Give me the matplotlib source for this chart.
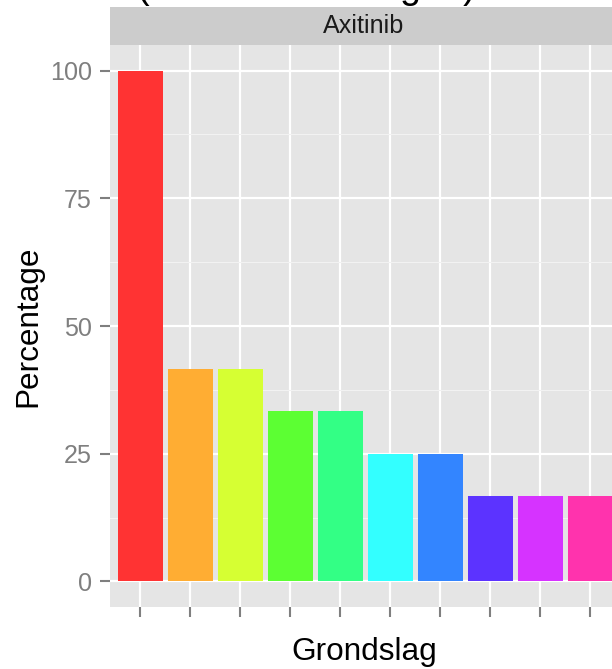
import numpy as np
import matplotlib.pyplot as plt

plt.rcParams['font.family'] = ['Liberation Sans', 'DejaVu Sans']

# data (12 patients -> steps of 8.33 %)
categories = ["G1", "G2", "G3", "G4", "G5", "G6", "G7", "G8", "G9", "G10"]
percentage = [100, 41.67, 41.67, 33.33, 33.33, 25, 25, 16.67, 16.67, 16.67]
bar_colors = ["#FF3333", "#FFAD33", "#D6FF33", "#5CFF33", "#33FF85",
              "#33FFFF", "#3385FF", "#5C33FF", "#D633FF", "#FF33AD"]
y_ticks = [0, 25, 50, 75, 100]
panel_name = "Axitinib"

W, H = 612, 669
fig = plt.figure(figsize=(W / 100, H / 100), dpi=100)

# panel geometry in pixels (top-origin), right edge runs off the picture
left, right, top, bottom = 110, 620, 45, 607
ax = fig.add_axes([left / W, (H - bottom) / H, (right - left) / W, (bottom - top) / H])
ax.set_facecolor("#E5E5E5")

x = np.arange(1, len(categories) + 1)
ax.bar(x, percentage, width=0.9, color=bar_colors, zorder=3)

ax.set_xlim(0.4, len(categories) + 0.6)
ax.set_ylim(-5, 105)
ax.set_yticks(y_ticks)
ax.set_yticks([12.5, 37.5, 62.5, 87.5], minor=True)
ax.set_xticks(x)
ax.set_xticklabels([""] * len(x))
ax.grid(which="major", color="white", linewidth=1.6, zorder=1)
ax.grid(which="minor", axis="y", color="#F2F2F2", linewidth=0.8, zorder=1)
for s in ax.spines.values():
    s.set_visible(False)
ax.tick_params(axis="both", which="major", color="#7F7F7F", length=7, width=1.5,
               labelsize=18.1, labelcolor="#7F7F7F", pad=6)
ax.tick_params(axis="both", which="minor", length=0)

# strip
sax = fig.add_axes([left / W, (H - top) / H, (right - left) / W, 38 / H])
sax.set_facecolor("#CCCCCC")
sax.set_xticks([])
sax.set_yticks([])
for s in sax.spines.values():
    s.set_visible(False)
fig.text((left + 254) / W, (H - 26) / H, panel_name, ha="center", va="center",
         fontsize=18.1, color="#1A1A1A")

# title, mostly cropped away at the top
fig.text(137 / W, 1 + 2 / H, "(Alle beoordelingen)", ha="left", va="baseline",
         fontsize=27.3, color="black")

fig.text(364 / W, (H - 660) / H, "Grondslag", ha="center", va="baseline",
         fontsize=22.7)
fig.text(28 / W, (H - 326) / H, "Percentage", ha="center", va="center",
         rotation=90, fontsize=22.7)

fig.savefig("out.png", dpi=100)
